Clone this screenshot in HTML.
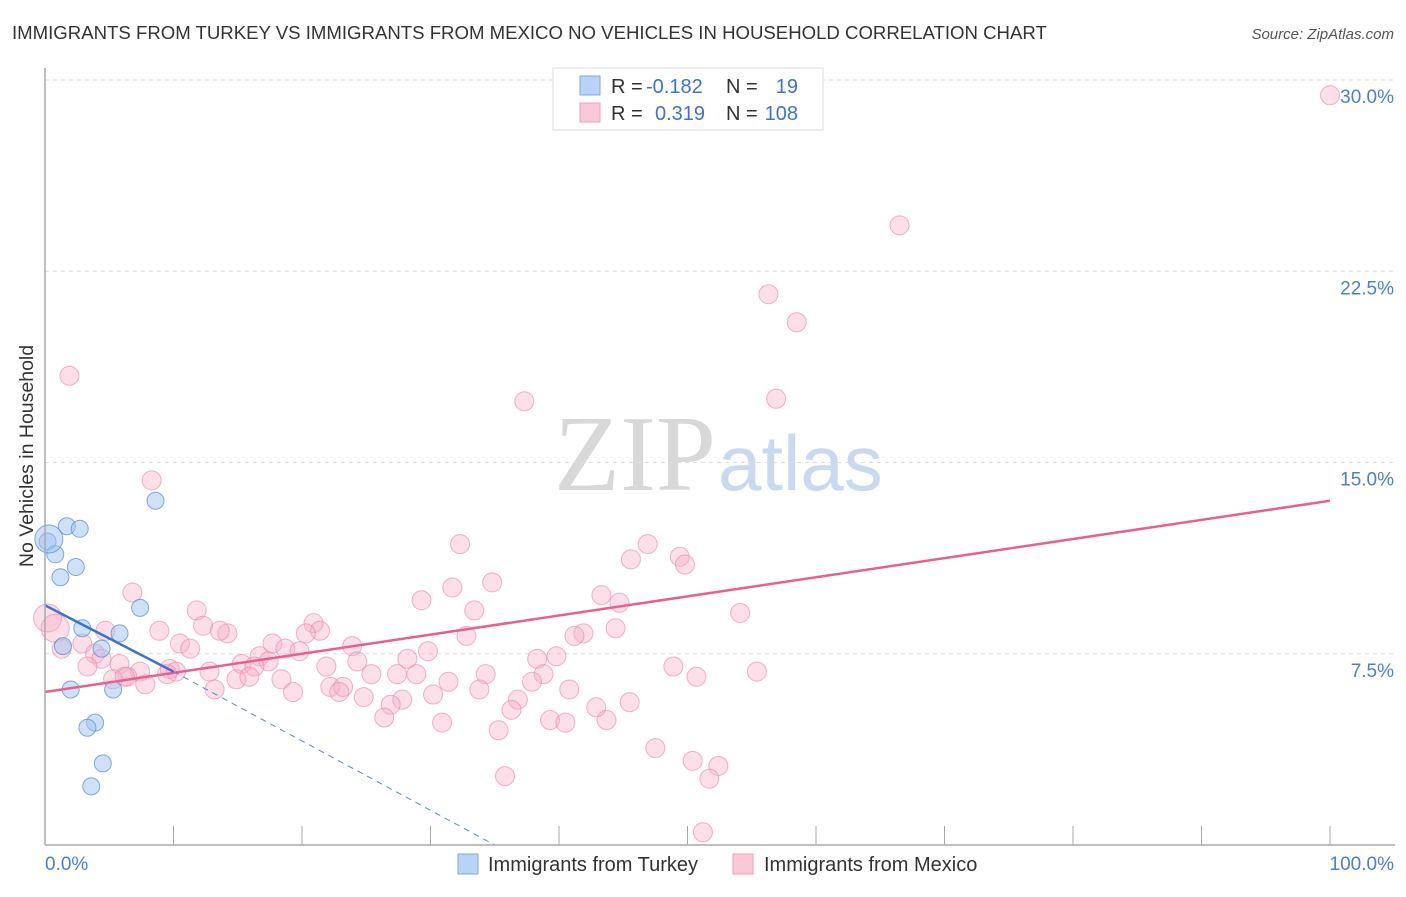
<!DOCTYPE html>
<html><head><meta charset="utf-8"><style>
body{margin:0;background:#fff;font-family:"Liberation Sans",sans-serif;}
</style></head><body>
<svg id="c" width="1406" height="892" xmlns="http://www.w3.org/2000/svg" style="font-family:'Liberation Sans',sans-serif">
<text x="12" y="39" font-size="18.6" fill="#333">IMMIGRANTS FROM TURKEY VS IMMIGRANTS FROM MEXICO NO VEHICLES IN HOUSEHOLD CORRELATION CHART</text>
<text x="1394" y="39" font-size="15" fill="#555" text-anchor="end" font-style="italic">Source: ZipAtlas.com</text>
<text x="33" y="456" font-size="19.5" fill="#333" transform="rotate(-90 33 456)" text-anchor="middle">No Vehicles in Household</text>
<text x="716" y="490" font-size="108" fill="#d8d8d8" text-anchor="end" font-family="Liberation Serif">ZIP</text>
<text x="718" y="490" font-size="78" fill="#c9daf0">atlas</text>
<g id="grid"></g><g id="pts"></g><g id="lines"></g>
<line x1="45" y1="845" x2="1395" y2="845" stroke="#aaa" stroke-width="1.5"/>
<line x1="45" y1="68" x2="45" y2="845" stroke="#aaa" stroke-width="1.5"/>
<text x="45" y="870" font-size="19" fill="#4a7fd4">0.0%</text>
<text x="1394" y="870" font-size="19" fill="#4a7fd4" text-anchor="end">100.0%</text>
<g><rect x="458" y="854" width="20" height="20" fill="#b8d3f5" stroke="#7fa9e0"/><text x="488" y="871" font-size="20" fill="#333">Immigrants from Turkey</text></g>
<g><rect x="733" y="854" width="20" height="20" fill="#fac8d6" stroke="#eea0b8"/><text x="764" y="871" font-size="20" fill="#333">Immigrants from Mexico</text></g>
<g>
<rect x="553" y="68" width="270" height="62" fill="#fff" stroke="#ddd"/>
<rect x="580" y="76" width="20" height="19" fill="#b8d3f5" stroke="#7fa9e0"/>
<rect x="580" y="103" width="20" height="19" fill="#fac8d6" stroke="#eea0b8"/>
<text x="611" y="93" font-size="20" fill="#333">R = </text><text x="646" y="93" font-size="20" fill="#3c72d0">-0.182</text>
<text x="726" y="93" font-size="20" fill="#333">N = </text><text x="798" y="93" font-size="20" fill="#3c72d0" text-anchor="end">19</text>
<text x="611" y="120" font-size="20" fill="#333">R = </text><text x="655" y="120" font-size="20" fill="#3c72d0">0.319</text>
<text x="726" y="120" font-size="20" fill="#333">N = </text><text x="798" y="120" font-size="20" fill="#3c72d0" text-anchor="end">108</text>
</g>
</svg>
<script>
const yTicks=[7.5,15,22.5,30];
const yTickLabels=["7.5%","15.0%","22.5%","30.0%"];
const xTicks=[0,10,20,30,40,50,60,70,80,90,100];
const turkeyX=[0.2,0.8,1.2,1.7,2.7,2.4,8.6,7.4,2.9,5.8,1.4,4.4,2.0,5.3,3.9,3.3,4.5,3.6,0.3];
const turkeyY=[11.9,11.4,10.5,12.5,12.4,10.9,13.5,9.3,8.5,8.3,7.8,7.7,6.1,6.1,4.8,4.6,3.2,2.3,12.0];
const mexicoX=[100,66.5,56.3,58.5,56.9,37.3,1.9,8.3,32.3,46.9,45.6,49.4,49.8,34.8,31.7,29.3,43.3,6.8,44.7,33.4,54.1,11.8,0.2,0.8,4.7,8.9,12.3,14.2,13.6,44.4,41.9,41.2,32.8,20.9,21.4,20.3,2.9,10.5,11.3,17.7,18.7,19.8,23.9,29.8,1.3,3.9,5.8,4.4,16.7,17.4,15.3,16.3,21.9,24.3,28.2,38.3,39.8,48.9,50.7,55.4,3.3,7.4,6.4,9.7,12.8,14.9,15.9,18.4,25.4,27.4,28.9,34.3,38.8,37.9,5.3,7.8,13.2,19.3,22.2,23.2,22.9,31.4,33.8,30.2,40.8,24.8,27.8,26.9,36.8,36.3,42.9,45.5,26.4,39.3,40.5,43.7,30.9,35.3,47.5,50.4,52.4,51.7,35.8,51.2,10.2,9.5,6.2];
const mexicoY=[29.4,24.3,21.6,20.5,17.5,17.4,18.4,14.3,11.8,11.8,11.2,11.3,11.0,10.3,10.1,9.6,9.8,9.9,9.5,9.2,9.1,9.2,8.9,8.5,8.4,8.4,8.6,8.3,8.4,8.5,8.3,8.2,8.2,8.7,8.4,8.3,7.9,7.9,7.7,7.9,7.7,7.6,7.8,7.6,7.7,7.5,7.1,7.3,7.4,7.2,7.1,7.0,7.0,7.2,7.3,7.3,7.4,7.0,6.6,6.8,7.0,6.8,6.6,6.9,6.8,6.5,6.6,6.5,6.7,6.7,6.7,6.7,6.7,6.4,6.5,6.3,6.1,6.0,6.2,6.2,6.0,6.4,6.1,5.9,6.1,5.8,5.7,5.5,5.7,5.3,5.4,5.6,5.0,4.9,4.8,4.9,4.8,4.5,3.8,3.3,3.1,2.6,2.7,0.5,6.8,6.7,6.6];
const mexicoTrend=[0,6.0,100,13.5];
const turkeyTrend=[0,9.4,10,6.8,35,0];
const X=v=>45+v*12.85, Y=v=>845-v*25.5;
const NS="http://www.w3.org/2000/svg";
function mk(t,a,p){const e=document.createElementNS(NS,t);for(const k in a)e.setAttribute(k,a[k]);p.appendChild(e);return e;}
const grid=document.getElementById('grid');
yTicks.forEach((v,i)=>{
 const l=mk('line',{x1:45,x2:1395,y1:Y(v),y2:Y(v),stroke:'#ddd','stroke-dasharray':'4,4'},grid);
 
 
 const t=mk('text',{x:1394,y:Y(v)+23,'font-size':19,fill:'#4a7fd4','text-anchor':'end'},grid);
 t.textContent=yTickLabels[i];
 
 
});
xTicks.forEach(v=>{
 const l=mk('line',{x1:X(v),x2:X(v),y1:826,y2:845,stroke:'#aaa'},grid);
 
 
});
const pts=document.getElementById('pts');
mexicoX.forEach((x,i)=>{
 const big=(i===22||i===23);
 const c=mk('circle',{cx:X(x),cy:Y(mexicoY[i]),r:big?14:9.5,fill:'rgba(248,175,198,0.4)',stroke:'rgba(232,130,165,0.6)','stroke-width':1},pts);
 
 
});
turkeyX.forEach((x,i)=>{
 const big=(i===18);
 const c=mk('circle',{cx:X(x),cy:Y(turkeyY[i]),r:big?14:8.5,fill:'rgba(160,196,240,0.5)',stroke:'rgba(80,135,215,0.7)','stroke-width':1},pts);
 
 
});
const ln=document.getElementById('lines');
const m=mk('line',{x1:X(mexicoTrend[0]),y1:Y(mexicoTrend[1]),x2:X(mexicoTrend[2]),y2:Y(mexicoTrend[3]),stroke:'#e8608e','stroke-width':2.5},ln);


const t1=mk('line',{x1:X(turkeyTrend[0]),y1:Y(turkeyTrend[1]),x2:X(turkeyTrend[2]),y2:Y(turkeyTrend[3]),stroke:'#3a72d0','stroke-width':2.5},ln);


const t2=mk('line',{x1:X(turkeyTrend[2]),y1:Y(turkeyTrend[3]),x2:X(turkeyTrend[4]),y2:Y(turkeyTrend[5]),stroke:'#5a8ad8','stroke-width':1,'stroke-dasharray':'6,5'},ln);


</script>
</body></html>
